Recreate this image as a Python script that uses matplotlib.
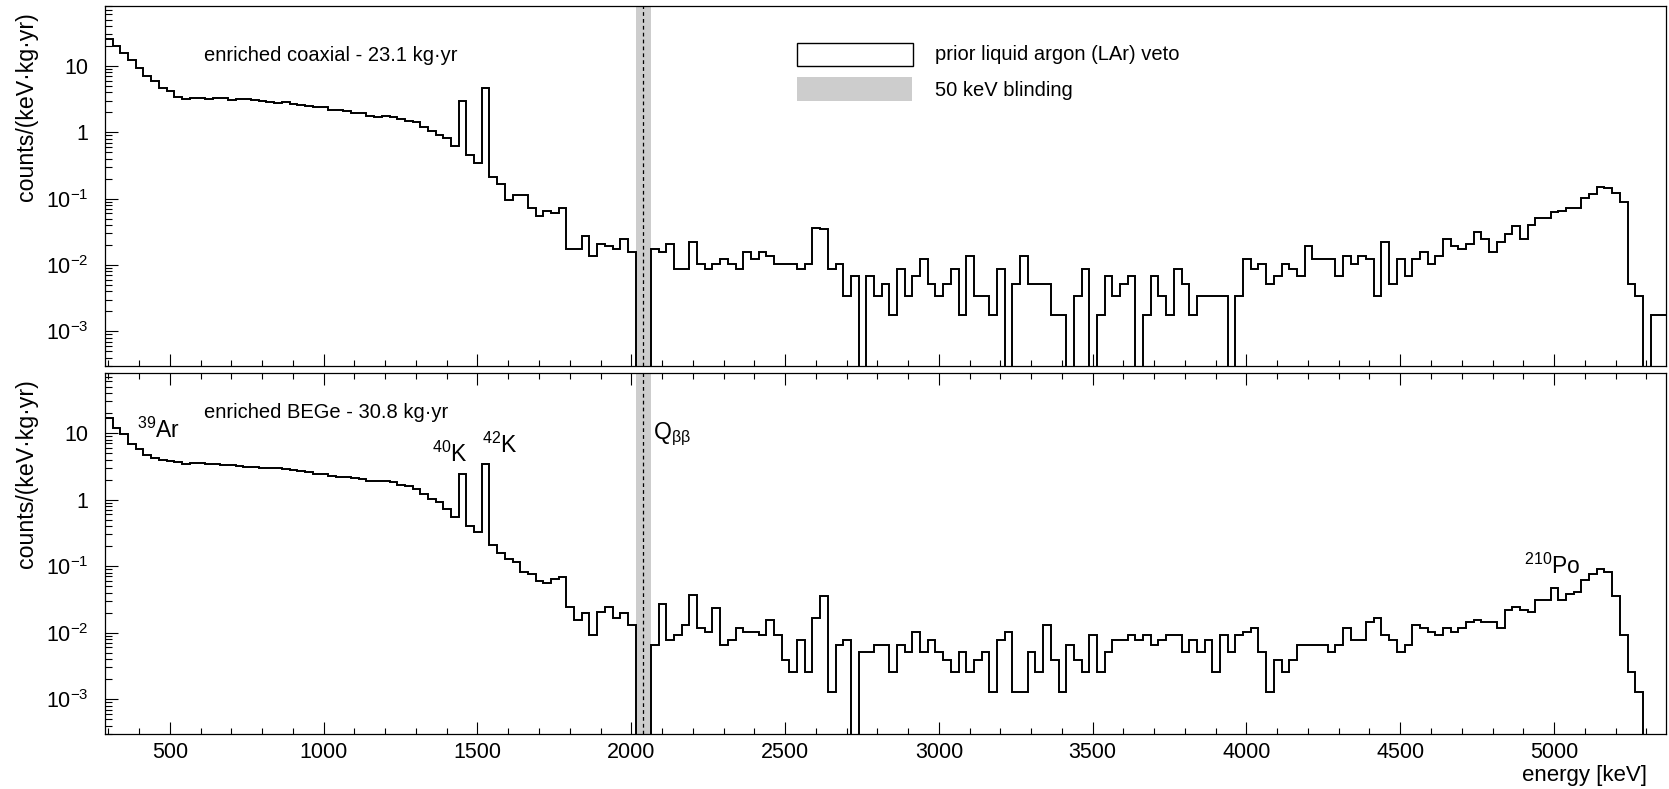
import numpy as np
import matplotlib
matplotlib.use("Agg")
import matplotlib.pyplot as plt
from matplotlib.patches import Rectangle
from matplotlib.ticker import MultipleLocator, FixedLocator, LogLocator, FuncFormatter, NullFormatter

plt.rcParams['font.family'] = ['Liberation Sans', 'DejaVu Sans']
plt.rcParams['mathtext.fontset'] = 'custom'
plt.rcParams['mathtext.rm'] = 'Liberation Sans'
plt.rcParams['mathtext.it'] = 'Liberation Sans:italic'
plt.rcParams['mathtext.bf'] = 'Liberation Sans:bold'

# binning (keV)
e_low = 289
bin_width = 25
n_bins = 203
q_bb = 2039
blind_lo, blind_hi = 2014, 2064

# exposures (kg yr)
coax_exposure = 23.1
bege_exposure = 30.8

# counts per 25 keV bin
coax_counts = [
    14560, 11560, 8960, 7110, 5450, 4080, 3390, 2660, 2450, 1950,
    1815, 1905, 1880, 1838, 1905, 1925, 1773, 1838, 1838, 1773,
    1733, 1673, 1598, 1655, 1563, 1509, 1440, 1408, 1375, 1254,
    1254, 1226, 1117, 1117, 1018, 973, 1018, 973, 906, 847,
    836, 703, 605, 527, 469, 364, 1733, 263, 202, 2660,
    121, 96, 55, 66, 66, 42, 32, 38, 35, 42,
    10, 10, 16, 8, 12, 11, 10, 14, 9, 0,
    0, 10, 9, 12, 5, 5, 13, 6, 5, 6,
    7, 6, 5, 9, 7, 9, 8, 6, 6, 6,
    5, 6, 21, 20, 5, 6, 2, 4, 0, 4,
    2, 3, 1, 5, 2, 4, 7, 3, 2, 3,
    5, 1, 8, 2, 2, 1, 5, 0, 3, 8,
    3, 3, 3, 1, 1, 0, 2, 5, 0, 1,
    4, 2, 3, 4, 0, 1, 4, 2, 1, 5,
    3, 1, 2, 2, 2, 2, 0, 2, 7, 5,
    6, 3, 4, 6, 5, 4, 11, 7, 7, 7,
    4, 8, 6, 8, 7, 2, 13, 3, 7, 4,
    7, 9, 6, 8, 14, 11, 10, 12, 18, 14,
    9, 13, 17, 22, 14, 23, 29, 29, 36, 38,
    41, 41, 60, 67, 86, 83, 71, 51, 3, 2,
    0, 1, 1,
]

bege_counts = [
    13040, 9210, 7395, 5350, 4497, 3651, 3253, 3070, 2965, 2830,
    2640, 2766, 2735, 2672, 2672, 2552, 2523, 2494, 2381, 2354,
    2298, 2298, 2298, 2194, 2169, 2095, 2000, 1888, 1866, 1741,
    1682, 1682, 1624, 1587, 1481, 1481, 1481, 1414, 1289, 1216,
    1094, 944, 774, 706, 560, 419, 1866, 307, 255, 2640,
    162, 121, 99, 90, 62, 59, 46, 43, 50, 53,
    19, 12, 15, 7, 16, 19, 13, 15, 10, 0,
    0, 5, 21, 6, 7, 10, 28, 9, 8, 18,
    5, 6, 9, 8, 8, 7, 12, 7, 3, 2,
    6, 2, 13, 27, 1, 5, 6, 0, 4, 4,
    5, 5, 2, 5, 4, 8, 4, 6, 4, 3,
    2, 4, 2, 3, 4, 1, 6, 8, 1, 1,
    4, 2, 10, 3, 1, 5, 3, 2, 7, 2,
    4, 6, 6, 7, 6, 7, 5, 6, 7, 7,
    4, 6, 4, 6, 2, 7, 4, 7, 8, 9,
    4, 1, 3, 2, 3, 5, 5, 5, 5, 4,
    5, 9, 6, 6, 11, 13, 7, 6, 4, 5,
    10, 9, 8, 7, 9, 8, 9, 11, 12, 11,
    11, 9, 17, 19, 17, 16, 24, 24, 36, 24,
    29, 31, 48, 59, 70, 63, 27, 7, 2, 1,
    0, 0, 0,
]

panel_labels = ["enriched coaxial - 23.1 kg\u00b7yr", "enriched BEGe - 30.8 kg\u00b7yr"]
legend_labels = ["prior liquid argon (LAr) veto", "50 keV blinding"]
# isotope labels: text, x (keV), baseline y (counts/(keV kg yr))
peak_labels = [
    (r"$^{39}$Ar", 394, 8.5),
    (r"$^{40}$K", 1352, 3.7),
    (r"$^{42}$K", 1514, 5.1),
    (r"Q$_{\mathrm{\beta\beta}}$", 2071, 8.0),
    (r"$^{210}$Po", 4902, 0.076),
]

edges = e_low + bin_width * np.arange(n_bins + 1)
x_max = edges[-1]
y_min, y_max = 3.0e-4, 80.0
band_color = '#cdcdcd'


def rate(counts, exposure):
    r = np.asarray(counts, float) / (bin_width * exposure)
    r[r <= 0] = 1e-9  # empty bins drop below the axis
    return r


def y_fmt(v, pos):
    e = int(round(np.log10(v)))
    if e == 0:
        return '1'
    if e == 1:
        return '10'
    return r'$10^{%d}$' % e


fig = plt.figure(figsize=(16.69, 7.89), dpi=100)
W, H = 1669.0, 789.0
ax_top = fig.add_axes([105 / W, 1 - 366 / H, 1561 / W, 360 / H])
ax_bot = fig.add_axes([105 / W, 1 - 734 / H, 1561 / W, 361 / H])

for ax, counts, expo, label in [(ax_top, coax_counts, coax_exposure, panel_labels[0]),
                                (ax_bot, bege_counts, bege_exposure, panel_labels[1])]:
    ax.set_yscale('log')
    ax.axvspan(blind_lo, blind_hi, color=band_color, lw=0, zorder=1)
    ax.axvline(q_bb, color='black', lw=0.9, ls=(0, (3, 2.5)), zorder=2)
    ax.stairs(rate(counts, expo), edges, baseline=None, color='black', lw=1.4, zorder=3)
    ax.set_xlim(e_low, x_max)
    ax.set_ylim(y_min, y_max)

    ax.xaxis.set_major_locator(MultipleLocator(500))
    ax.xaxis.set_minor_locator(MultipleLocator(100))
    ax.yaxis.set_major_locator(FixedLocator([1e-3, 1e-2, 1e-1, 1, 10]))
    ax.yaxis.set_minor_locator(LogLocator(base=10, subs=np.arange(2, 10), numticks=20))
    ax.yaxis.set_major_formatter(FuncFormatter(y_fmt))
    ax.yaxis.set_minor_formatter(NullFormatter())
    ax.tick_params(which='both', direction='in', width=0.8, labelsize=15.5)
    ax.tick_params(axis='x', which='major', length=8.5, pad=5.5)
    ax.tick_params(axis='x', which='minor', length=4.3)
    ax.tick_params(axis='y', which='major', length=9.5, pad=12)
    ax.tick_params(axis='y', which='minor', length=5)
    for s in ax.spines.values():
        s.set_linewidth(0.9)

    ax.text(611, 12.0 if ax is ax_top else 17.0, label, fontsize=14.5,
            ha='left', va='baseline', zorder=5)
    ax.text(-0.050, 0.984, "counts/(keV\u00b7kg\u00b7yr)", transform=ax.transAxes,
            rotation=90, ha='center', va='top', fontsize=16.7)

ax_top.tick_params(axis='x', labelbottom=False)
ax_bot.tick_params(axis='x', top=True, which='both')

for txt, xk, yv in peak_labels:
    ax_bot.text(xk, yv, txt, fontsize=16.5, ha='left', va='baseline', zorder=5)

ax_bot.text(0.988, -0.116, "energy [keV]", transform=ax_bot.transAxes,
            ha='right', va='center', fontsize=16)

# legend drawn as boxes in axes fraction
ax_top.add_patch(Rectangle((0.4432, 0.834), 0.0742, 0.064, transform=ax_top.transAxes,
                           facecolor='white', edgecolor='black', lw=1.0, zorder=6))
ax_top.add_patch(Rectangle((0.4432, 0.737), 0.0736, 0.066, transform=ax_top.transAxes,
                           facecolor=band_color, edgecolor='none', zorder=6))
ax_top.text(0.5316, 0.849, legend_labels[0], transform=ax_top.transAxes,
            ha='left', va='baseline', fontsize=14.5)
ax_top.text(0.5316, 0.751, legend_labels[1], transform=ax_top.transAxes,
            ha='left', va='baseline', fontsize=14.5)

fig.savefig("out.png", dpi=100)
